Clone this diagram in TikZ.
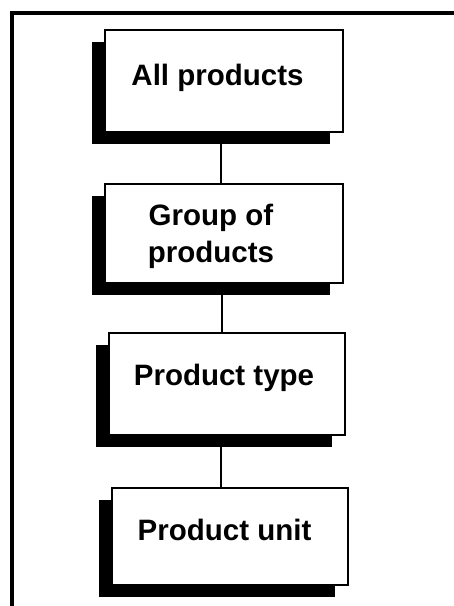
\documentclass[tikz,border=0pt]{standalone}
\usepackage{fontspec}
\setmainfont{Liberation Sans}
\usetikzlibrary{shadows}
\begin{document}
\begin{tikzpicture}[x=1pt,y=-1pt,
  box/.style={draw=black, line width=1.8pt, fill=white, inner sep=0pt,
    drop shadow={shadow xshift=-13pt, shadow yshift=-12pt, fill=black, opacity=1}},
  lbl/.style={font=\fontsize{29.5}{37}\selectfont\bfseries, anchor=base, inner sep=0pt, align=center},
  link/.style={line width=2pt},
  frame/.style={line width=3.5pt}]
\useasboundingbox (0,0) rectangle (454,606);
\coordinate (ftl) at (12,13);
\coordinate (ftr) at (454,13);
\coordinate (fbl) at (12,606);
\draw[frame] (ftr) -- (ftl) -- (fbl);
\node[box, minimum width=238pt, minimum height=102pt] (b1) at (224,81) {};
\node[box, minimum width=238pt, minimum height=99pt] (b2) at (224,233.5) {};
\node[box, minimum width=236pt, minimum height=102pt] (b3) at (227,384) {};
\node[box, minimum width=236pt, minimum height=97pt] (b4) at (230,536.5) {};
\draw[link] (b1.south -| 221,0) -- (b2.north -| 221,0);
\draw[link] (b2.south -| 222,0) -- (b3.north -| 222,0);
\draw[link] (b3.south -| 221,0) -- (b4.north -| 221,0);
\node[lbl] (t1) at (217.5,85) {All products};
\node[lbl] (t2) at (211,262) {Group of\\products};
\node[lbl] (t3) at (224,385) {Product type};
\node[lbl] (t4) at (224.5,540) {Product unit};
\end{tikzpicture}
\end{document}
